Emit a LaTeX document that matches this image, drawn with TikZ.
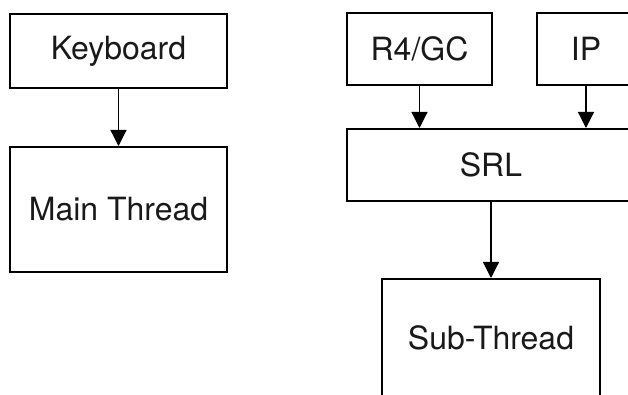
\documentclass[tikz,border=0pt]{standalone}
\usepackage{fontspec}
\setmainfont{TeX Gyre Heros}
\usetikzlibrary{arrows.meta}

\begin{document}
\begin{tikzpicture}[x=0.5pt, y=-0.5pt,
  box/.style={draw, line width=1pt, inner sep=0pt, text=black!90, font=\fontsize{16}{19}\selectfont},
  flow/.style={line width=0.6pt, -{Triangle[length=8pt, width=8pt]}}]
\useasboundingbox (0, 0) rectangle (628, 395);
\clip (0, 0) rectangle (628, 395);

\node[box, minimum width=108.5pt, minimum height=37pt] (keyboard) at (118.5, 51) {Keyboard};
\node[box, minimum width=108.5pt, minimum height=62.5pt] (main) at (118.5, 209.5) {Main Thread};

\node[box, minimum width=72.5pt, minimum height=36pt] (r4gc) at (419.5, 49) {R4/GC};
\node[box, minimum width=49pt, minimum height=36pt] (ip) at (586, 49) {IP};
\node[box, minimum width=144pt, minimum height=36pt] (srl) at (491, 165) {SRL};
\node[box, minimum width=109pt, minimum height=59pt] (sub) at (491, 338) {Sub-Thread};

\draw[flow] (keyboard) -- (main);
\draw[flow] (r4gc.south) -- (r4gc.south |- srl.north);
\draw[flow] (ip.south) -- (ip.south |- srl.north);
\draw[flow] (srl) -- (sub);

\end{tikzpicture}
\end{document}
